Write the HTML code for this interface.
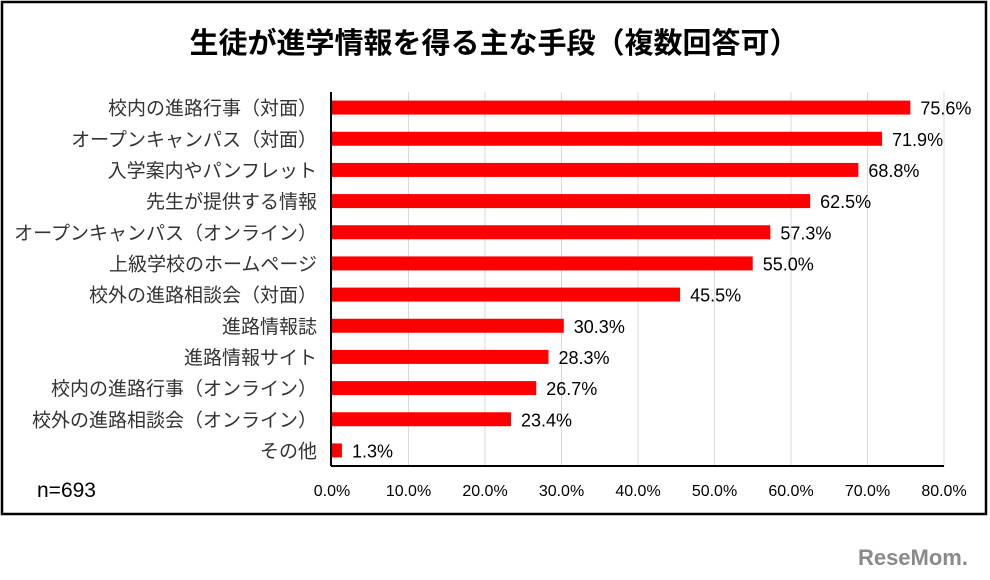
<!DOCTYPE html>
<html><head><meta charset="utf-8"><style>
body{margin:0;background:#fff;width:990px;height:580px;overflow:hidden;font-family:"Liberation Sans","Noto Sans CJK JP",sans-serif}
</style></head><body>
<svg width="990" height="580" style="position:absolute;left:0;top:0">
<rect x="2" y="2" width="984" height="512" fill="#fff" stroke="#000" stroke-width="2.5"/>
<text x="494" y="53" text-anchor="middle" font-size="29" font-weight="bold" font-family="Liberation Sans,Noto Sans CJK JP,sans-serif">生徒が進学情報を得る主な手段（複数回答可）</text>
<g id="grid"></g><g id="bars"></g><g id="labels"></g>
<line x1="331" y1="92" x2="331" y2="466" stroke="#000" stroke-width="2"/>
<line x1="331" y1="466" x2="944" y2="466" stroke="#000" stroke-width="2"/>
<text x="37" y="497" font-size="21">n=693</text>
<text x="968" y="565" text-anchor="end" font-size="22" font-weight="bold" fill="#8a8a8a">ReseMom.</text>
</svg>
<script>
const categories=["校内の進路行事（対面）","オープンキャンパス（対面）","入学案内やパンフレット","先生が提供する情報","オープンキャンパス（オンライン）","上級学校のホームページ","校外の進路相談会（対面）","進路情報誌","進路情報サイト","校内の進路行事（オンライン）","校外の進路相談会（オンライン）","その他"];
const values=[75.6,71.9,68.8,62.5,57.3,55.0,45.5,30.3,28.3,26.7,23.4,1.3];
const tickLabels=["0.0%","10.0%","20.0%","30.0%","40.0%","50.0%","60.0%","70.0%","80.0%"];
const ticks=[0,10,20,30,40,50,60,70,80];
const NS="http://www.w3.org/2000/svg";
const x0=332,x1=944,y0=92,y1=466,maxV=80;
const xs=v=>x0+(v/maxV)*(x1-x0);
const band=(y1-y0)/categories.length;
const yc=i=>y0+band*(i+0.5);
function mk(t,a,p){const e=document.createElementNS(NS,t);for(const k in a)e.setAttribute(k,a[k]);p.appendChild(e);return e;}
const g=document.getElementById('grid'),b=document.getElementById('bars'),l=document.getElementById('labels');
ticks.forEach((t,i)=>{
 if(t>0){const ln=mk('line',{x1:xs(t),x2:xs(t),y1:y0,y2:y1,stroke:'#d9d9d9','stroke-width':1},g);
 
 }
 const tx=mk('text',{x:xs(t),y:496,'text-anchor':'middle','font-size':16},l);tx.textContent=tickLabels[i];
 
 
});
categories.forEach((c,i)=>{
 const r=mk('rect',{x:x0,y:yc(i)-7,width:xs(values[i])-x0,height:14,fill:'#ff0000'},b);
 
 
 const ct=mk('text',{x:317,y:yc(i)+7,'text-anchor':'end','font-size':19,fill:'#333'},l);ct.textContent=c;
 
 
 const vt=mk('text',{x:xs(values[i])+10,y:yc(i)+7,'font-size':18},l);vt.textContent=values[i].toFixed(1)+'%';
 
 
});
</script>
</body></html>
